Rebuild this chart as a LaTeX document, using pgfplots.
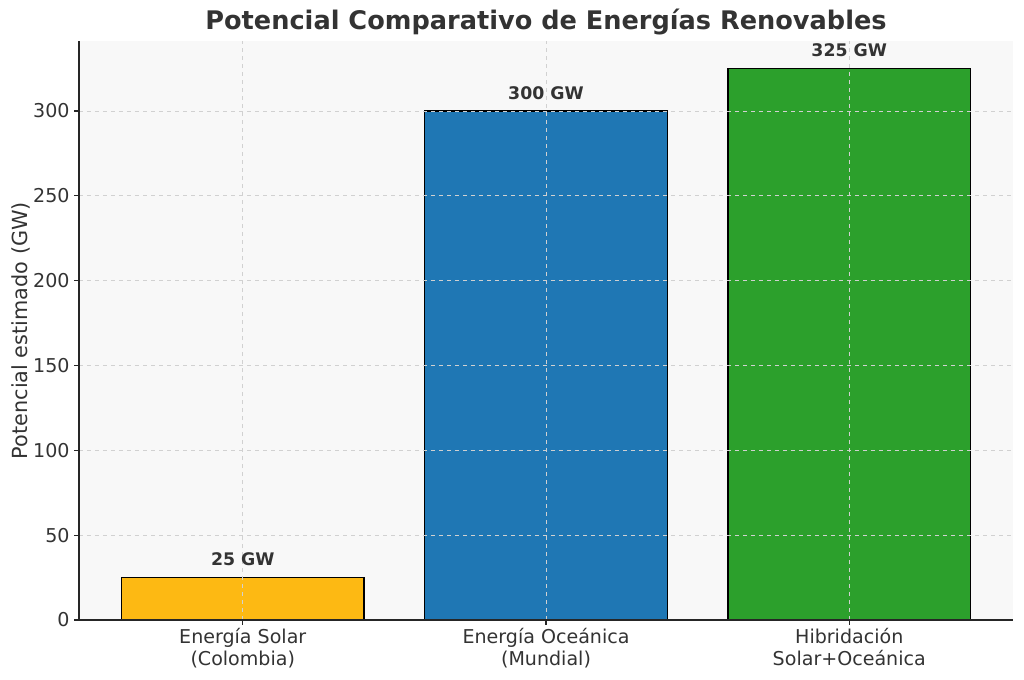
\documentclass[border=0pt]{standalone}
\usepackage{pgfplots}
\pgfplotsset{compat=1.18}
\usepackage{fontspec}
\setmainfont{DejaVu Sans}
\definecolor{txt}{HTML}{333333}
\definecolor{cy}{HTML}{FDB913}
\definecolor{cb}{HTML}{1F77B4}
\definecolor{cg}{HTML}{2CA02C}
\definecolor{bg}{HTML}{F8F8F8}
\begin{document}
\begin{tikzpicture}
\begin{axis}[
  name=ax,
  scale only axis,
  width=700.5pt, height=434.25pt,
  xmin=-0.54, xmax=2.54,
  ymin=0, ymax=341.25,
  axis lines*=left,
  axis line style={-, line width=0.9pt, black!85},
  axis background/.style={fill=bg},
  axis on top,
  xtick={0,1,2},
  xticklabels={{Energía Solar\\(Colombia)},{Energía Oceánica\\(Mundial)},{Hibridación\\Solar+Oceánica}},
  xticklabel style={align=center, font=\fontsize{14.3}{16.6}\selectfont, text=txt, yshift=1pt},
  ytick={0,50,100,150,200,250,300},
  yticklabel style={font=\fontsize{14.3}{16}\selectfont, text=txt},
  /pgf/number format/assume math mode=true,
  tick align=outside,
  major tick length=3.5pt,
  tick style={black!85, line width=0.8pt},
  grid=major,
  major grid style={dashed, black!18, line width=0.55pt},
  ylabel={Potencial estimado (GW)},
  ylabel style={font=\fontsize{15.6}{18}\selectfont, text=txt, yshift=-5pt},
  title={\textbf{Potencial Comparativo de Energías Renovables}},
  title style={font=\fontsize{19.2}{22}\selectfont, text=txt, yshift=-5pt},
  ybar, bar width=0.8, bar shift=0pt,
  nodes near coords={\textbf{\pgfmathprintnumber{\pgfplotspointmeta} GW}},
  every node near coord/.append style={font=\fontsize{13}{15}\selectfont, text=txt, anchor=south, yshift=5pt},
]
\addplot[fill=cy, draw=black, line width=0.9pt] coordinates {(0,25)};
\addplot[fill=cb, draw=black, line width=0.9pt] coordinates {(1,300)};
\addplot[fill=cg, draw=black, line width=0.9pt] coordinates {(2,325)};
\end{axis}
\pgfresetboundingbox
\path[use as bounding box] ([shift={(-59.25pt,-44.25pt)}]ax.south west) rectangle ([shift={(8.25pt,30.75pt)}]ax.north east);
\end{tikzpicture}
\end{document}
